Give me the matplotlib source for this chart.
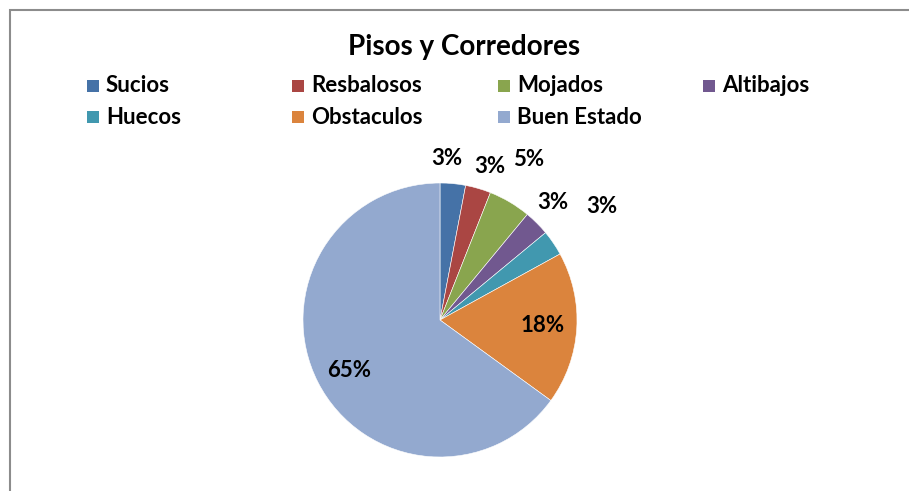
import matplotlib.pyplot as plt
from matplotlib.patches import Rectangle

categories = ["Sucios", "Resbalosos", "Mojados", "Altibajos",
              "Huecos", "Obstaculos", "Buen Estado"]
values = [3, 3, 5, 3, 3, 18, 65]
colors = ["#4572A7", "#AA4643", "#89A54E", "#71588F",
          "#4198AF", "#DB843D", "#93A9CF"]
# where excel put each percent label (pie radius = 1)
label_pos = [(0.05, 1.18), (0.36, 1.12), (0.65, 1.17), (0.82, 0.86),
             (1.18, 0.83), (0.75, -0.04), (-0.66, -0.37)]

plt.rcParams['font.family'] = ['Lato', 'DejaVu Sans']

W, H = 909, 491
fig = plt.figure(figsize=(W / 100, H / 100), dpi=100)

# chart frame
fig.patches.append(Rectangle((10 / W, -0.1), 1.0, (H - 10) / H + 0.1,
                             transform=fig.transFigure, fill=False,
                             edgecolor="#8c8c8c", linewidth=1.5))

# pie axes: center (440, 320) px, radius 137 px
r = 137
side = 3 * r
ax = fig.add_axes([(440 - side / 2) / W, (H - 320 - side / 2) / H,
                   side / W, side / H])
ax.pie(values, colors=colors, startangle=90, counterclock=False,
       radius=1, wedgeprops=dict(edgecolor="white", linewidth=0.4))
ax.set_xlim(-1.5, 1.5)
ax.set_ylim(-1.5, 1.5)
ax.set_aspect("equal")
ax.axis("off")

total = sum(values)
for v, (x, y) in zip(values, label_pos):
    ax.text(x, y, "%d%%" % round(100 * v / total), ha="center", va="center",
            fontsize=16, fontweight="bold", color="black")

fig.text(464 / W, 1 - 47 / H, "Pisos y Corredores", ha="center",
         va="center", fontsize=20, fontweight="bold")

# legend, 4 equal columns like excel
col_x = [87, 292, 498, 703]
row_y = [86, 117]
for i, (name, c) in enumerate(zip(categories, colors)):
    x = col_x[i % 4]
    y = row_y[i // 4]
    fig.patches.append(Rectangle((x / W, 1 - (y + 6) / H), 12 / W, 12 / H,
                                 transform=fig.transFigure, facecolor=c,
                                 edgecolor="none"))
    fig.text((x + 19) / W, 1 - y / H, name, ha="left", va="center",
             fontsize=16, fontweight="bold")

fig.savefig("out.png", dpi=100)
